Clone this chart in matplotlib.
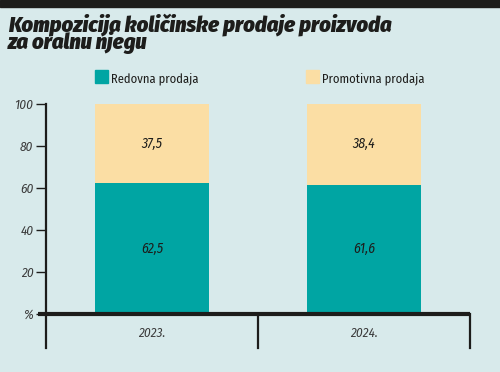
import matplotlib
matplotlib.use("Agg")
import matplotlib.pyplot as plt
from matplotlib.patches import Rectangle
from matplotlib import font_manager

categories = ["2023.", "2024."]
redovna = [62.5, 61.6]
promotivna = [37.5, 38.4]
yticks = [0, 20, 40, 60, 80, 100]
ytick_labels = ["%", "20", "40", "60", "80", "100"]
title_lines = ["Kompozicija količinske prodaje proizvoda", "za oralnu njegu"]
legend_labels = ["Redovna prodaja", "Promotivna prodaja"]

installed = set(f.name for f in font_manager.fontManager.ttflist)

def pick(cands):
    return [c for c in cands if c in installed] + ["DejaVu Sans"]

TITLE_FONT = pick(["Fira Sans Condensed", "Barlow Condensed", "Roboto Condensed",
                   "Liberation Sans Narrow"])
BODY_FONT = pick(["Fira Sans Condensed", "Barlow Semi Condensed", "Roboto Condensed",
                  "Liberation Sans Narrow"])

BG = "#d8eaeb"
TEAL = "#00a5a3"
BEIGE = "#fbdea4"
DARK = "#1d1d1b"
GRAY = "#3a3a3a"

fig = plt.figure(figsize=(5, 3.72), dpi=100, facecolor=BG)
W, H = 500, 372

def fx(px):
    return px / W

def fy(py):
    return 1 - py / H

fig.patches.append(Rectangle((0, fy(7)), 1, 7 / H, transform=fig.transFigure,
                             color=DARK, zorder=0))

for line, base in zip(title_lines, [32, 48.5]):
    fig.text(fx(8), fy(base), line, ha="left", va="baseline", fontsize=16,
             fontweight="black", style="italic", family=TITLE_FONT, color=DARK)

for lx, col, lab in [(95, TEAL, legend_labels[0]), (306, BEIGE, legend_labels[1])]:
    fig.patches.append(Rectangle((fx(lx), fy(83)), 13 / W, 13 / H,
                                 transform=fig.transFigure, color=col))
    fig.text(fx(lx + 16), fy(82), lab, ha="left", va="baseline", fontsize=9,
             family=BODY_FONT, color=DARK)

ax = fig.add_axes([fx(46), fy(314), fx(470) - fx(46), (314 - 104) / H])
ax.set_facecolor(BG)
ax.set_xlim(0, 2)
ax.set_ylim(0, 100)

xs = [0.5, 1.5]
w = 0.538
ax.bar(xs, redovna, width=w, color=TEAL, zorder=2)
ax.bar(xs, promotivna, width=w, bottom=redovna, color=BEIGE, zorder=2)

for x, r, p in zip(xs, redovna, promotivna):
    ax.text(x, r / 2, f"{r:.1f}".replace(".", ","), ha="center", va="center",
            style="italic", fontsize=10, color=DARK, family=BODY_FONT)
    ax.text(x, r + p / 2, f"{p:.1f}".replace(".", ","), ha="center", va="center",
            style="italic", fontsize=10, color=DARK, family=BODY_FONT)

for s in ["top", "right", "bottom", "left"]:
    ax.spines[s].set_visible(False)

ax.set_xticks([])
ax.set_yticks(yticks)
ax.set_yticklabels(ytick_labels, style="italic", fontsize=9.5, color=GRAY,
                   family=BODY_FONT)
ax.tick_params(axis="y", length=7, width=1.0, color=DARK, pad=2)

ax.plot([0, 0], [100, -16.2], color=DARK, lw=1.6, clip_on=False, zorder=3)
ax.plot([-8 / 212, 2], [0, 0], color=DARK, lw=3, clip_on=False, zorder=3,
        solid_capstyle="butt")
for xd in [1.0, 2.0]:
    ax.plot([xd, xd], [0, -16.2], color=DARK, lw=1.6, clip_on=False, zorder=3)

for x, c in zip(xs, categories):
    ax.text(x, -9, c, ha="center", va="center", style="italic", fontsize=9.5,
            color=GRAY, family=BODY_FONT)

fig.savefig("out.png", dpi=100, facecolor=BG)
